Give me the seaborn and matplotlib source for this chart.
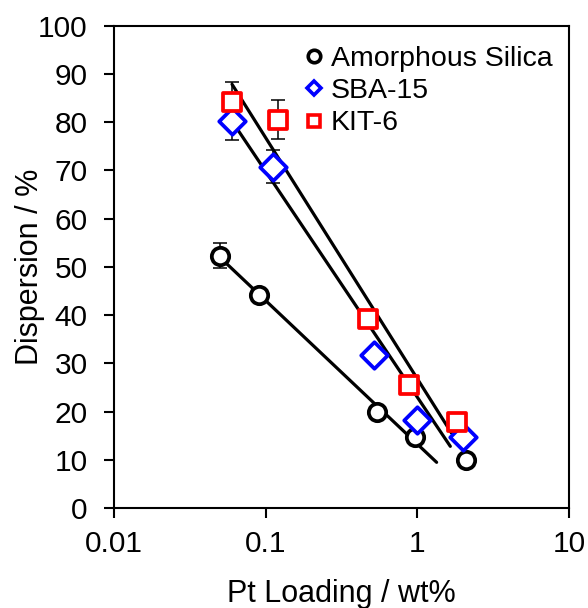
import numpy as np
import pandas as pd
import matplotlib
matplotlib.use("Agg")
import matplotlib.pyplot as plt
from matplotlib.lines import Line2D
from matplotlib.ticker import FixedLocator, FixedFormatter, NullLocator
import seaborn as sns

# ---- data ----
series_names = ["Amorphous Silica", "SBA-15", "KIT-6"]

amorphous_x = [0.05, 0.09, 0.545, 0.96, 2.09]
amorphous_y = [52.3, 44.2, 20.0, 14.7, 9.9]
amorphous_err = [2.6, 0.0, 0.0, 0.0, 0.0]

sba_x = [0.06, 0.111, 0.52, 1.0, 2.01]
sba_y = [80.3, 70.8, 31.8, 18.2, 14.8]
sba_err = [4.0, 3.5, 0.0, 0.0, 0.0]

kit_x = [0.06, 0.12, 0.47, 0.877, 1.82]
kit_y = [84.2, 80.5, 39.2, 25.5, 17.9]
kit_err = [4.2, 4.0, 0.0, 0.0, 0.0]

# logarithmic trend lines: number of points used in the fit and end of drawn range
fit_npoints = [4, 5, 5]
fit_end = [1.34, 1.65, 1.68]

x_ticks = [0.01, 0.1, 1, 10]
x_tick_labels = ["0.01", "0.1", "1", "10"]
y_ticks = list(range(0, 101, 10))

# ---- styling ----
colors = ["black", "#0000FF", "#FF0000"]
markers = ["o", "D", "s"]
msizes = [12.5, 13.5, 13.5]
legend_ms = [9.0, 7.0, 9.0]

sns.set_style("ticks")
plt.rcParams["font.family"] = ["Liberation Sans", "DejaVu Sans"]
plt.rcParams["text.color"] = "black"
plt.rcParams["axes.labelcolor"] = "black"
plt.rcParams["xtick.color"] = "black"
plt.rcParams["ytick.color"] = "black"

fig = plt.figure(figsize=(5.88, 6.08), dpi=100)
ax = fig.add_axes([114 / 588, 1 - 508 / 608, 455 / 588, 482.3 / 608])

xs = [amorphous_x, sba_x, kit_x]
ys = [amorphous_y, sba_y, kit_y]
errs = [amorphous_err, sba_err, kit_err]

frames = []
for name, x, y in zip(series_names, xs, ys):
    frames.append(pd.DataFrame({"x": x, "y": y, "series": name}))
df = pd.concat(frames, ignore_index=True)

handles = []
for i, (name, x, y, e) in enumerate(zip(series_names, xs, ys, errs)):
    x = np.asarray(x, float)
    y = np.asarray(y, float)
    n = fit_npoints[i]
    slope, icpt = np.polyfit(np.log10(x[:n]), y[:n], 1)
    xl = np.array([x[0], fit_end[i]])
    yl = slope * np.log10(xl) + icpt
    sns.lineplot(x=xl, y=yl, ax=ax, color="black", lw=2.3, zorder=2,
                 estimator=None, sort=False)
    ax.errorbar(x, y, yerr=e, fmt="none", ecolor="black", elinewidth=1.1,
                capsize=5, capthick=1.1, zorder=3)
    sub = df[df["series"] == name]
    sns.scatterplot(data=sub, x="x", y="y", ax=ax, marker=markers[i],
                    s=msizes[i] ** 2, facecolor="white", edgecolor=colors[i],
                    linewidth=2.7, zorder=4, legend=False)
    handles.append(Line2D([], [], ls="none", marker=markers[i],
                          markersize=legend_ms[i], markerfacecolor="white",
                          markeredgecolor=colors[i], markeredgewidth=2.6,
                          label=name))

ax.set_xscale("log")
ax.set_xlim(0.01, 10)
ax.set_ylim(0, 100)
ax.xaxis.set_major_locator(FixedLocator(x_ticks))
ax.xaxis.set_major_formatter(FixedFormatter(x_tick_labels))
ax.xaxis.set_minor_locator(NullLocator())
ax.set_yticks(y_ticks)

for sp in ax.spines.values():
    sp.set_visible(True)
    sp.set_linewidth(1.5)
    sp.set_color("black")

ax.tick_params(axis="both", direction="out", length=7, width=1.5,
               color="black", labelsize=21.5, labelcolor="black")
ax.tick_params(axis="y", pad=12)
ax.tick_params(axis="x", pad=9)

ax.set_xlabel("Pt Loading / wt%", fontsize=22, labelpad=15, color="black")
ax.set_ylabel("Dispersion / %", fontsize=22, color="black")
ax.yaxis.set_label_coords(-0.152, 0.5)

leg = ax.legend(handles=handles, loc="upper left", bbox_to_anchor=(0.42, 0.958),
                frameon=False, fontsize=20.5, handlelength=0.6, handletextpad=0.3,
                labelspacing=0.22, borderaxespad=0, borderpad=0)
for t in leg.get_texts():
    t.set_color("black")

fig.savefig("out.png", dpi=100)
